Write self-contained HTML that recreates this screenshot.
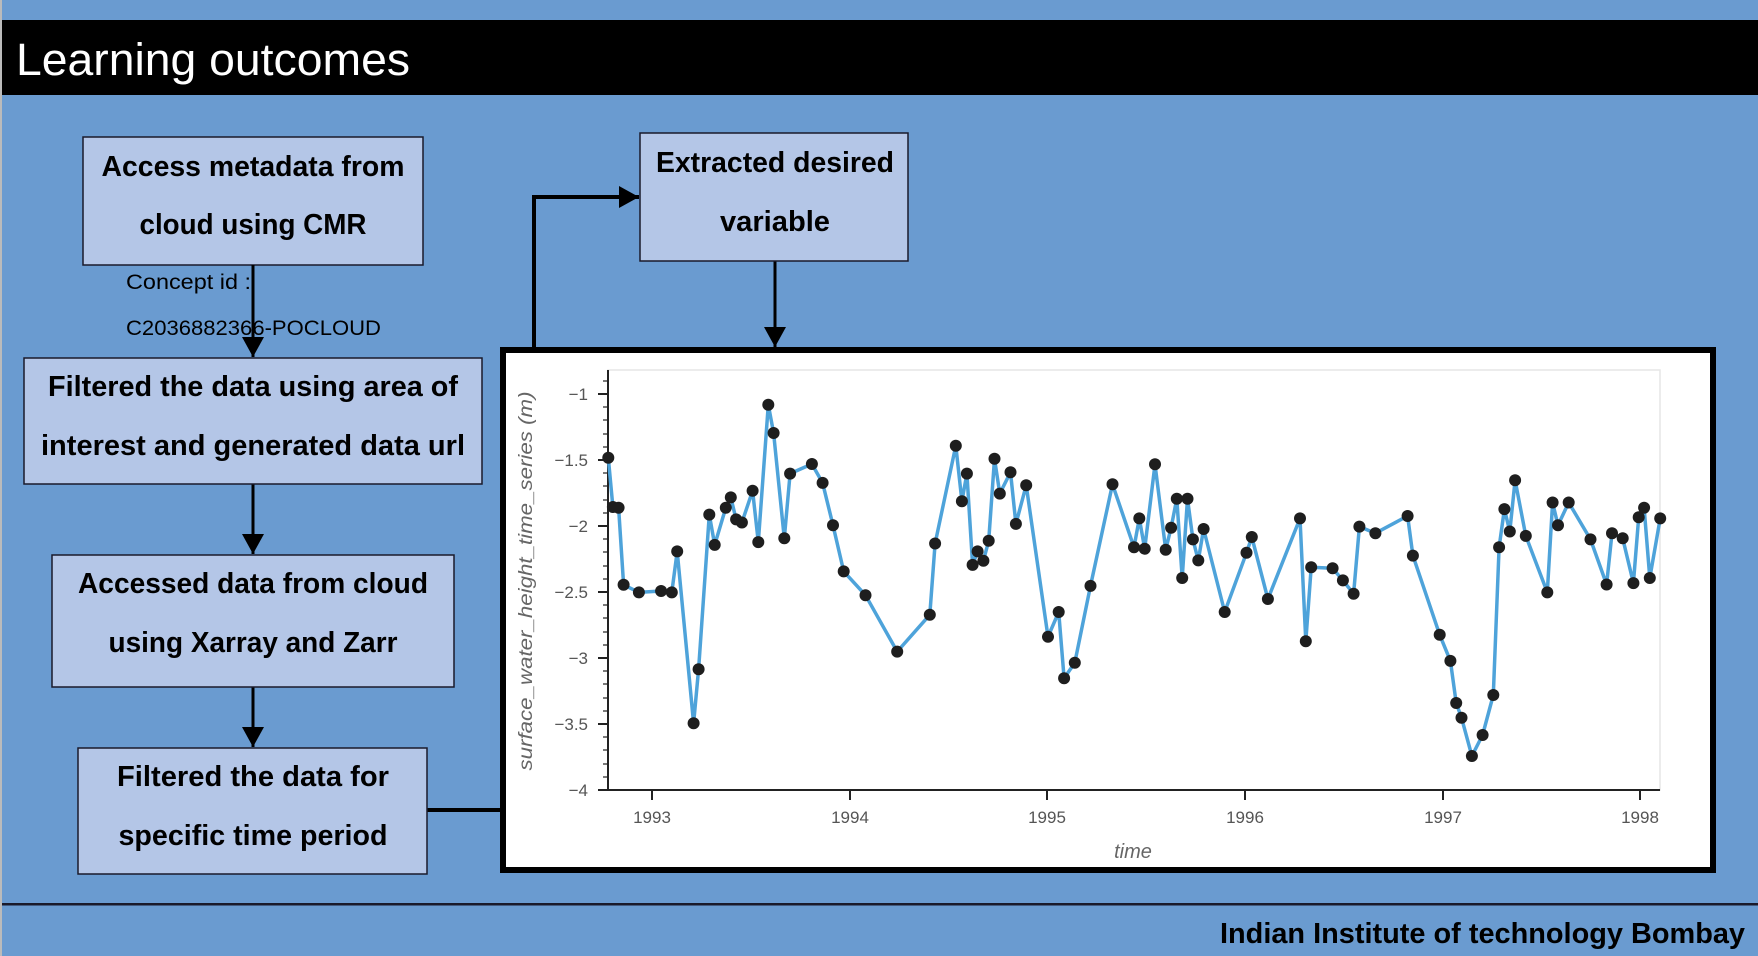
<!DOCTYPE html>
<html><head><meta charset="utf-8"><style>
html,body{margin:0;padding:0;background:#6a9bd0;}
svg{display:block;}
text{font-family:"Liberation Sans",sans-serif;}
</style></head><body>
<svg width="1758" height="956" viewBox="0 0 1758 956" xmlns="http://www.w3.org/2000/svg">
<defs>
<marker id="ah2" markerWidth="20" markerHeight="22" refX="20" refY="11" orient="auto" markerUnits="userSpaceOnUse">
<path d="M0,0 L20,11 L0,22 z" fill="#000"/>
</marker>
</defs>
<rect width="1758" height="956" fill="#6a9bd0"/>
<rect x="0" y="0" width="2" height="956" fill="#bbb"/>
<rect x="2" y="20" width="1756" height="75" fill="#000"/>
<text x="16" y="75" font-size="45" fill="#fff" textLength="394" lengthAdjust="spacingAndGlyphs">Learning outcomes</text>

<g stroke="#000" stroke-width="3" fill="none">
<line x1="253" y1="265" x2="253" y2="357" marker-end="url(#ah2)"/>
<line x1="253" y1="484" x2="253" y2="554" marker-end="url(#ah2)"/>
<line x1="253" y1="687" x2="253" y2="747" marker-end="url(#ah2)"/>
<line x1="427" y1="810" x2="503" y2="810" stroke-width="4"/>
<polyline points="534,348 534,197 639,197" stroke-width="4" marker-end="url(#ah2)"/>
<line x1="775" y1="261" x2="775" y2="347" marker-end="url(#ah2)"/>
</g>

<g fill="#b4c6e7" stroke="#1a1a2a" stroke-width="1.5">
<rect x="83" y="137" width="340" height="128"/>
<rect x="640" y="133" width="268" height="128"/>
<rect x="24" y="358" width="458" height="126"/>
<rect x="52" y="555" width="402" height="132"/>
<rect x="78" y="748" width="349" height="126"/>
</g>
<g font-weight="bold" font-size="29" fill="#000" text-anchor="middle">
<text x="253" y="176" textLength="303" lengthAdjust="spacingAndGlyphs">Access metadata from</text>
<text x="253" y="234" textLength="227" lengthAdjust="spacingAndGlyphs">cloud using CMR</text>
<text x="775" y="172" textLength="238" lengthAdjust="spacingAndGlyphs">Extracted desired</text>
<text x="775" y="231" textLength="110" lengthAdjust="spacingAndGlyphs">variable</text>
<text x="253" y="396" textLength="410" lengthAdjust="spacingAndGlyphs">Filtered the data using area of</text>
<text x="253" y="455" textLength="424" lengthAdjust="spacingAndGlyphs">interest and generated data url</text>
<text x="253" y="593" textLength="350" lengthAdjust="spacingAndGlyphs">Accessed data from cloud</text>
<text x="253" y="652" textLength="289" lengthAdjust="spacingAndGlyphs">using Xarray and Zarr</text>
<text x="253" y="786" textLength="272" lengthAdjust="spacingAndGlyphs">Filtered the data for</text>
<text x="253" y="845" textLength="269" lengthAdjust="spacingAndGlyphs">specific time period</text>
</g>
<text x="126" y="289" font-size="21" fill="#000" textLength="125" lengthAdjust="spacingAndGlyphs">Concept id :</text>
<text x="126" y="335" font-size="21" fill="#000" textLength="255" lengthAdjust="spacingAndGlyphs">C2036882366-POCLOUD</text>
<line x1="253" y1="265" x2="253" y2="357" stroke="#000" stroke-width="3"/>

<rect x="503" y="350" width="1210" height="520" fill="#fff" stroke="#000" stroke-width="6"/>
<rect x="608" y="370" width="1052" height="420" fill="none" stroke="#e6e6e6" stroke-width="1.5"/>

<g stroke="#222" stroke-width="2">
<line x1="608" y1="370" x2="608" y2="791"/>
<line x1="607" y1="790" x2="1660" y2="790"/>
<line x1="652" y1="790" x2="652" y2="800"/>
<line x1="850" y1="790" x2="850" y2="800"/>
<line x1="1047" y1="790" x2="1047" y2="800"/>
<line x1="1245" y1="790" x2="1245" y2="800"/>
<line x1="1443" y1="790" x2="1443" y2="800"/>
<line x1="1640" y1="790" x2="1640" y2="800"/>
<line x1="598" y1="394" x2="608" y2="394"/>
<line x1="598" y1="460" x2="608" y2="460"/>
<line x1="598" y1="526" x2="608" y2="526"/>
<line x1="598" y1="592" x2="608" y2="592"/>
<line x1="598" y1="658" x2="608" y2="658"/>
<line x1="598" y1="724" x2="608" y2="724"/>
<line x1="598" y1="790" x2="608" y2="790"/>
</g>
<g stroke="#222" stroke-width="1.2">
<line x1="603" y1="381" x2="608" y2="381"/><line x1="603" y1="407" x2="608" y2="407"/><line x1="603" y1="420" x2="608" y2="420"/><line x1="603" y1="434" x2="608" y2="434"/><line x1="603" y1="447" x2="608" y2="447"/>
<line x1="603" y1="473" x2="608" y2="473"/><line x1="603" y1="486" x2="608" y2="486"/><line x1="603" y1="500" x2="608" y2="500"/><line x1="603" y1="513" x2="608" y2="513"/>
<line x1="603" y1="539" x2="608" y2="539"/><line x1="603" y1="552" x2="608" y2="552"/><line x1="603" y1="566" x2="608" y2="566"/><line x1="603" y1="579" x2="608" y2="579"/>
<line x1="603" y1="605" x2="608" y2="605"/><line x1="603" y1="618" x2="608" y2="618"/><line x1="603" y1="632" x2="608" y2="632"/><line x1="603" y1="645" x2="608" y2="645"/>
<line x1="603" y1="671" x2="608" y2="671"/><line x1="603" y1="684" x2="608" y2="684"/><line x1="603" y1="698" x2="608" y2="698"/><line x1="603" y1="711" x2="608" y2="711"/>
<line x1="603" y1="737" x2="608" y2="737"/><line x1="603" y1="750" x2="608" y2="750"/><line x1="603" y1="764" x2="608" y2="764"/><line x1="603" y1="777" x2="608" y2="777"/>
</g>
<g font-size="17" fill="#555" text-anchor="end">
<text x="588" y="400">−1</text>
<text x="588" y="466">−1.5</text>
<text x="588" y="532">−2</text>
<text x="588" y="598">−2.5</text>
<text x="588" y="664">−3</text>
<text x="588" y="730">−3.5</text>
<text x="588" y="796">−4</text>
</g>
<g font-size="17" fill="#555" text-anchor="middle">
<text x="652" y="823">1993</text>
<text x="850" y="823">1994</text>
<text x="1047" y="823">1995</text>
<text x="1245" y="823">1996</text>
<text x="1443" y="823">1997</text>
<text x="1640" y="823">1998</text>
</g>
<text x="1133" y="858" font-size="20" font-style="italic" fill="#666" text-anchor="middle">time</text>
<text transform="translate(532,581) rotate(-90)" font-size="19" font-style="italic" fill="#666" text-anchor="middle" textLength="379" lengthAdjust="spacingAndGlyphs">surface_water_height_time_series (m)</text>

<polyline fill="none" stroke="#4ea3da" stroke-width="3.5" stroke-linejoin="round" points="608.3,457.8 612.9,507 618.6,507.7 623.6,584.8 638.9,592.4 661.1,591 671.8,592.4 677.2,551.4 693.6,723.3 698.6,669.2 709.3,514.6 714.7,544.9 725.8,507.7 730.8,497.4 736.1,519.4 741.9,522.5 752.6,490.8 758.3,542.1 768.3,404.7 773.6,433 784.3,538.3 790.1,473.6 811.9,464 822.6,482.9 833,525.3 843.7,571.4 865.5,595.2 897.2,651.6 929.8,614.8 935.1,543.5 955.8,445.7 961.9,501.2 966.9,473.6 972.6,564.9 977.6,551.4 983.4,560.7 988.7,540.8 994.5,458.8 999.8,493.6 1010.5,472.2 1015.9,523.9 1026.2,485.3 1048,636.8 1058.7,612 1064.1,678.2 1074.8,662.7 1090.5,585.9 1112.5,484.3 1134,547.3 1139.3,518.4 1144.7,548.7 1155,464.3 1165.7,549.7 1171.1,527.7 1176.8,498.7 1182.2,578 1187.5,498.7 1192.9,539.4 1198.3,560.4 1203.6,529 1224.7,612 1246.5,552.8 1251.8,537 1267.9,599 1300,518.4 1305.8,641.3 1311.2,567.3 1332.6,568.3 1342.9,580.4 1353.6,593.8 1359.4,526.6 1375.4,533.2 1407.6,516 1412.9,555.6 1439.7,634.8 1450.4,660.9 1456.2,703 1461.5,717.7 1471.9,756 1482.6,735 1493.3,695 1499.1,547.3 1504.4,509.1 1509.8,531.5 1515.1,480.2 1525.8,535.9 1547.3,592.4 1552.6,502.5 1558,525.3 1568.7,502.5 1590.5,539.4 1606.6,584.5 1612,533.2 1622.7,538.3 1633.4,583.1 1638.7,517.3 1644.1,507.7 1649.8,578 1660.2,518.4"/>
<g fill="#1e1e1e">
<circle cx="608.3" cy="457.8" r="6"/><circle cx="612.9" cy="507" r="6"/><circle cx="618.6" cy="507.7" r="6"/><circle cx="623.6" cy="584.8" r="6"/><circle cx="638.9" cy="592.4" r="6"/><circle cx="661.1" cy="591" r="6"/><circle cx="671.8" cy="592.4" r="6"/><circle cx="677.2" cy="551.4" r="6"/><circle cx="693.6" cy="723.3" r="6"/><circle cx="698.6" cy="669.2" r="6"/><circle cx="709.3" cy="514.6" r="6"/><circle cx="714.7" cy="544.9" r="6"/><circle cx="725.8" cy="507.7" r="6"/><circle cx="730.8" cy="497.4" r="6"/><circle cx="736.1" cy="519.4" r="6"/><circle cx="741.9" cy="522.5" r="6"/><circle cx="752.6" cy="490.8" r="6"/><circle cx="758.3" cy="542.1" r="6"/><circle cx="768.3" cy="404.7" r="6"/><circle cx="773.6" cy="433" r="6"/><circle cx="784.3" cy="538.3" r="6"/><circle cx="790.1" cy="473.6" r="6"/><circle cx="811.9" cy="464" r="6"/><circle cx="822.6" cy="482.9" r="6"/><circle cx="833" cy="525.3" r="6"/><circle cx="843.7" cy="571.4" r="6"/><circle cx="865.5" cy="595.2" r="6"/><circle cx="897.2" cy="651.6" r="6"/><circle cx="929.8" cy="614.8" r="6"/><circle cx="935.1" cy="543.5" r="6"/><circle cx="955.8" cy="445.7" r="6"/><circle cx="961.9" cy="501.2" r="6"/><circle cx="966.9" cy="473.6" r="6"/><circle cx="972.6" cy="564.9" r="6"/><circle cx="977.6" cy="551.4" r="6"/><circle cx="983.4" cy="560.7" r="6"/><circle cx="988.7" cy="540.8" r="6"/><circle cx="994.5" cy="458.8" r="6"/><circle cx="999.8" cy="493.6" r="6"/><circle cx="1010.5" cy="472.2" r="6"/><circle cx="1015.9" cy="523.9" r="6"/><circle cx="1026.2" cy="485.3" r="6"/><circle cx="1048" cy="636.8" r="6"/><circle cx="1058.7" cy="612" r="6"/><circle cx="1064.1" cy="678.2" r="6"/><circle cx="1074.8" cy="662.7" r="6"/><circle cx="1090.5" cy="585.9" r="6"/><circle cx="1112.5" cy="484.3" r="6"/><circle cx="1134" cy="547.3" r="6"/><circle cx="1139.3" cy="518.4" r="6"/><circle cx="1144.7" cy="548.7" r="6"/><circle cx="1155" cy="464.3" r="6"/><circle cx="1165.7" cy="549.7" r="6"/><circle cx="1171.1" cy="527.7" r="6"/><circle cx="1176.8" cy="498.7" r="6"/><circle cx="1182.2" cy="578" r="6"/><circle cx="1187.5" cy="498.7" r="6"/><circle cx="1192.9" cy="539.4" r="6"/><circle cx="1198.3" cy="560.4" r="6"/><circle cx="1203.6" cy="529" r="6"/><circle cx="1224.7" cy="612" r="6"/><circle cx="1246.5" cy="552.8" r="6"/><circle cx="1251.8" cy="537" r="6"/><circle cx="1267.9" cy="599" r="6"/><circle cx="1300" cy="518.4" r="6"/><circle cx="1305.8" cy="641.3" r="6"/><circle cx="1311.2" cy="567.3" r="6"/><circle cx="1332.6" cy="568.3" r="6"/><circle cx="1342.9" cy="580.4" r="6"/><circle cx="1353.6" cy="593.8" r="6"/><circle cx="1359.4" cy="526.6" r="6"/><circle cx="1375.4" cy="533.2" r="6"/><circle cx="1407.6" cy="516" r="6"/><circle cx="1412.9" cy="555.6" r="6"/><circle cx="1439.7" cy="634.8" r="6"/><circle cx="1450.4" cy="660.9" r="6"/><circle cx="1456.2" cy="703" r="6"/><circle cx="1461.5" cy="717.7" r="6"/><circle cx="1471.9" cy="756" r="6"/><circle cx="1482.6" cy="735" r="6"/><circle cx="1493.3" cy="695" r="6"/><circle cx="1499.1" cy="547.3" r="6"/><circle cx="1504.4" cy="509.1" r="6"/><circle cx="1509.8" cy="531.5" r="6"/><circle cx="1515.1" cy="480.2" r="6"/><circle cx="1525.8" cy="535.9" r="6"/><circle cx="1547.3" cy="592.4" r="6"/><circle cx="1552.6" cy="502.5" r="6"/><circle cx="1558" cy="525.3" r="6"/><circle cx="1568.7" cy="502.5" r="6"/><circle cx="1590.5" cy="539.4" r="6"/><circle cx="1606.6" cy="584.5" r="6"/><circle cx="1612" cy="533.2" r="6"/><circle cx="1622.7" cy="538.3" r="6"/><circle cx="1633.4" cy="583.1" r="6"/><circle cx="1638.7" cy="517.3" r="6"/><circle cx="1644.1" cy="507.7" r="6"/><circle cx="1649.8" cy="578" r="6"/><circle cx="1660.2" cy="518.4" r="6"/>
</g>

<rect x="2" y="903" width="1756" height="2.5" fill="#1a1a2a"/>
<text x="1745" y="943" font-size="29" font-weight="bold" fill="#000" text-anchor="end" textLength="525" lengthAdjust="spacingAndGlyphs">Indian Institute of technology Bombay</text>
</svg>
</body></html>
